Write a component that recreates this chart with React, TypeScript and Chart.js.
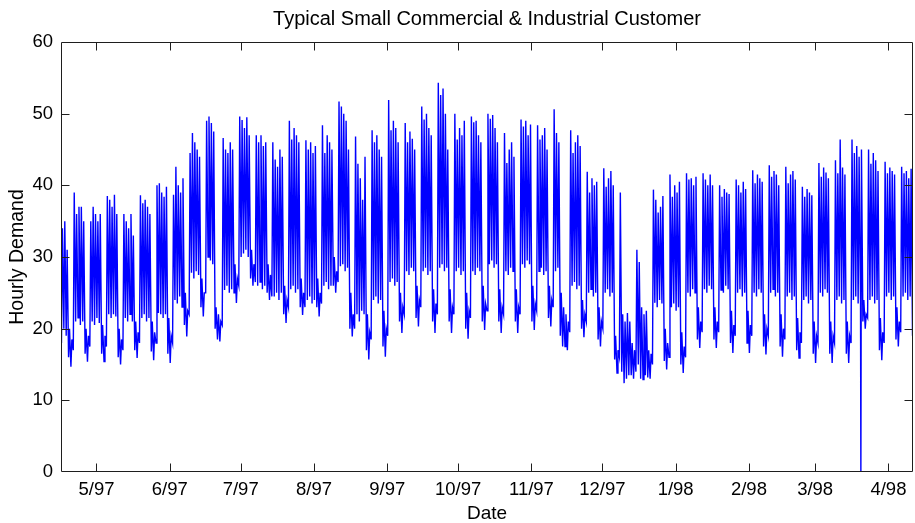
import React, { useEffect, useRef } from 'react';
import { Chart, registerables } from 'chart.js';

Chart.register(...registerables);

// ---- Axis data (x in days since 5/1/97) ----
const monthTickDays = [0, 31, 61, 92, 123, 153, 184, 214, 245, 276, 304, 335];
const monthTickLabels = ['5/97', '6/97', '7/97', '8/97', '9/97', '10/97', '11/97', '12/97', '1/98', '2/98', '3/98', '4/98'];
const xMin = -15; // Wed 4/16/97
const xMax = 345.4;
const yMin = 0;
const yMax = 60;
const yStep = 10;

// first data day (Wed 4/16/97); each day has a night low and a daytime high
const firstDay = -15;
const lowHour = 0.2;
const highHour = 0.6;

// Daily daytime peaks. First 3 values Wed-Fri, then rows of Sat,Sun,Mon,Tue,Wed,Thu,Fri
const dailyHigh = [
  34, 35, 31,
  20, 18.5, 39, 36, 37, 37, 35,
  20, 19, 35, 37, 36, 35, 36,
  20.5, 19, 38.5, 38, 37, 38.7, 36,
  20, 18.5, 36, 35, 34, 36, 33,
  21, 19.5, 38.6, 37.5, 38, 37, 36,
  21, 19.5, 40, 40.3, 39, 38.4, 39.8,
  21.5, 19, 38.7, 42.6, 40, 39, 41,
  25, 22.5, 44.5, 47.3, 46, 45, 44,
  27, 25, 49, 49.6, 48.7, 47.5, 23,
  22, 21, 46.6, 45, 44.5, 46, 45,
  29, 27, 49.6, 49.1, 48, 49.5, 47,
  31, 29, 47, 46, 47, 45.5, 46,
  29, 27.5, 46, 43.6, 42.6, 45, 44,
  26, 24, 49, 46.4, 48, 47, 46,
  27, 25, 46.3, 45, 46, 44.5, 45.5,
  27, 25, 48.4, 44.5, 47, 46, 45,
  30, 28, 51.7, 51, 50, 49, 45,
  25, 22, 46.8, 43, 41, 38, 44,
  22, 19.5, 47.7, 46, 47, 45, 44,
  22.5, 20, 51.9, 47.7, 49, 48, 46,
  25, 23, 48.7, 46, 47.5, 46.5, 45,
  26, 24, 51, 49.2, 50, 48, 47,
  25.5, 23.5, 54.3, 52.6, 53.5, 50, 45,
  25.5, 23, 50, 46.4, 48, 47, 49,
  25, 22.5, 49.6, 48.8, 49, 47, 46,
  26, 23.5, 50, 49.3, 49.8, 48, 46,
  25.5, 23, 47.3, 43.1, 45, 46, 44,
  25.5, 23, 49.2, 48.2, 49, 47, 48.5,
  26, 23.5, 48.4, 46.4, 47, 48, 45,
  26, 24, 50.6, 47.3, 46, 25, 23,
  22, 21, 47.7, 44.5, 46, 47, 45.5,
  24, 22, 41.9, 39, 41, 40, 40.5,
  23, 21, 42.4, 39.8, 41, 42, 40,
  19, 17, 39, 22, 21, 22.2, 21,
  18, 17, 31, 29.3, 23, 22, 22.5,
  17, 16.5, 39.4, 38, 36.2, 37, 38.5,
  20, 18, 41.5, 38.4, 40, 39, 40.5,
  19.5, 17.5, 41.7, 40.8, 41, 40, 41.2,
  23, 21, 41.7, 40.8, 40, 41.5, 40,
  23, 21, 40, 38.4, 39.5, 39, 38.8,
  22.5, 20.5, 40.8, 40, 39, 40.5, 39.5,
  22.5, 20.5, 42.1, 40.3, 41.5, 41, 40.5,
  22, 20, 42.8, 41.2, 42, 41.5, 40,
  22, 20, 42.6, 40.3, 41.5, 42, 40.8,
  21.5, 19.5, 39.8, 38.4, 39.5, 39, 38.6,
  21, 19, 43.1, 41.2, 42.5, 41.8, 41,
  21, 19, 43.5, 41.7, 46.4, 42.5, 41.5,
  21, 19, 46.4, 44.5, 45.5, 44, 45,
  24, 22, 45, 43, 44.5, 43.5, 42,
  21.5, 19.5, 43.3, 41.7, 42.5, 42, 41.5,
  23, 21, 42.6, 41.7, 42, 41, 42.3,
  21,
];

// Daily night lows, same layout
const dailyLow = [
  18, 20, 19,
  16, 14.7, 17, 21, 21.5, 20.5, 21,
  16.5, 15.4, 17.5, 21, 20.5, 21.5, 20.8,
  16.5, 15.4, 17.5, 22, 21.5, 22, 21.7,
  16, 15, 17, 21.5, 21, 22, 21,
  17, 15.9, 18, 21.5, 22, 21, 21.5,
  16.8, 15.6, 18, 22.2, 22, 21.5, 22,
  16.5, 15.2, 18, 24, 23.5, 24.5, 23,
  20.5, 18.9, 22, 27.8, 27, 28, 27.5,
  23, 21.7, 25, 30, 29.5, 29, 20,
  18.5, 18.2, 20.5, 25.4, 26, 25, 25.5,
  25, 23.6, 26, 30, 30.5, 31, 30,
  27, 26, 26.5, 26, 26.5, 25.5, 26,
  25, 24, 24.5, 24.5, 25, 24, 25,
  22, 20.8, 23, 25.5, 26, 25, 25.5,
  23, 21.9, 23, 24, 24.5, 23.5, 24,
  23, 21.7, 23.5, 26, 26.5, 25.5, 26,
  26, 25, 26.5, 28.7, 29, 28, 28.5,
  20, 18.9, 20, 22, 21, 22.5, 22,
  17, 15.7, 18.5, 24, 24.5, 23.5, 24,
  17.5, 16.1, 19, 26.5, 27, 26, 26.5,
  21, 19.4, 22, 28, 27.5, 28.5, 28,
  21.5, 20.3, 23, 28, 28.5, 27.5, 28,
  21, 19.4, 22, 28.5, 29, 28, 28.5,
  21, 19.4, 22, 28, 28.5, 27.5, 28,
  20, 18.6, 21.5, 28, 27.5, 28.5, 28,
  21, 19.8, 22.5, 29, 29.5, 28.5, 29,
  21, 19.4, 22, 28, 27.5, 28.5, 28,
  21, 19.4, 22, 29, 28.5, 29.5, 29,
  21, 19.8, 22.5, 28, 28.5, 27.5, 28,
  21.5, 20.3, 23, 28, 28.5, 19, 17.5,
  17.5, 17, 19.5, 26, 26.5, 25.5, 26,
  20, 18.8, 21, 25, 25.5, 24.5, 25,
  18.5, 17.5, 20, 25, 25.5, 24.5, 25,
  15.7, 13.8, 16, 14, 12.4, 13, 13.5,
  13.5, 13, 14, 15, 13, 12.9, 13.5,
  13.2, 13, 15, 23.6, 23, 24, 23.5,
  15.5, 14.3, 16, 23, 23.5, 22.5, 23,
  15, 13.8, 16, 25, 24.5, 25.5, 25,
  18.5, 17.3, 19.5, 25.5, 25, 26, 25.5,
  18.5, 17.3, 19.5, 25.4, 25, 26, 25.5,
  18, 16.6, 19, 25, 25.5, 24.5, 25,
  18, 16.6, 19, 25, 24.5, 25.5, 25,
  17.5, 16.4, 19, 25, 25.5, 24.5, 25,
  17.5, 16.1, 18.5, 24.5, 25, 24, 24.5,
  17, 15.9, 18, 24, 24.5, 23.5, 24,
  16.5, 15.2, 18, 25, 24.5, 25.5, 25,
  16.5, 15.2, 18, 24, 24.5, 23.5, 24,
  16.5, 15.2, 18, 24, 24.5, 23.5, 24,
  21, 20, 21.5, 24, 24.5, 23.5, 24,
  17, 15.6, 18, 24.5, 25, 24, 24.5,
  18.5, 17.5, 19.5, 24.5, 25, 24, 24.5,
  19,
];

// Meter outage reading (drop to zero)
const outageDays = [323.35];
const outageValues = [0];

const TITLE = 'Typical Small Commercial & Industrial Customer';
const X_TITLE = 'Date';
const Y_TITLE = 'Hourly Demand';
const FONT = "'Liberation Sans', Arial, Helvetica, sans-serif";

const frameTicksPlugin = {
  id: 'frameTicks',
  afterDraw(chart: any) {
    const { ctx, chartArea, scales } = chart;
    const { left, right, top, bottom } = chartArea;
    const L = Math.round(left) + 0.5;
    const R = Math.round(right) - 0.5;
    const T = Math.round(top) + 0.5;
    const B = Math.round(bottom) - 0.5;
    const len = 8;
    ctx.save();
    ctx.strokeStyle = '#1e1e1e';
    ctx.lineWidth = 1;
    ctx.beginPath();
    ctx.rect(L, T, R - L, B - T);
    scales.x.ticks.forEach((t: any) => {
      const px = Math.round(scales.x.getPixelForValue(t.value)) + 0.5;
      ctx.moveTo(px, B);
      ctx.lineTo(px, B - len);
      ctx.moveTo(px, T);
      ctx.lineTo(px, T + len);
    });
    scales.y.ticks.forEach((t: any) => {
      if (t.value <= yMin || t.value >= yMax) return;
      const py = Math.round(scales.y.getPixelForValue(t.value)) + 0.5;
      ctx.moveTo(L, py);
      ctx.lineTo(L + len, py);
      ctx.moveTo(R, py);
      ctx.lineTo(R - len, py);
    });
    ctx.stroke();
    ctx.restore();
  },
};

export default function App() {
  const canvasRef = useRef<HTMLCanvasElement | null>(null);

  useEffect(() => {
    const canvas = canvasRef.current;
    if (!canvas) return;

    const points: { x: number; y: number }[] = [];
    for (let i = 0; i < dailyLow.length; i++) {
      const d = firstDay + i;
      points.push({ x: d + lowHour, y: dailyLow[i] });
      points.push({ x: d + highHour, y: dailyHigh[i] });
    }
    outageDays.forEach((d, i) => points.push({ x: d, y: outageValues[i] }));
    points.sort((a, b) => a.x - b.x);

    const chart = new Chart(canvas, {
      type: 'line',
      data: {
        datasets: [
          {
            data: points,
            borderColor: '#0000ff',
            borderWidth: 1.4,
            pointRadius: 0,
            fill: false,
            tension: 0,
          },
        ],
      },
      options: {
        animation: false,
        responsive: false,
        devicePixelRatio: 1,
        parsing: false,
        normalized: true,
        layout: { padding: { left: 0, right: 2, top: 0, bottom: 0 } },
        plugins: {
          legend: { display: false },
          tooltip: { enabled: false },
          title: {
            display: true,
            text: TITLE,
            fullSize: false,
            color: '#000',
            font: { family: FONT, size: 20, weight: 'normal' },
            padding: { top: 7, bottom: 11 },
          },
        },
        scales: {
          x: {
            type: 'linear',
            min: xMin,
            max: xMax,
            afterBuildTicks: (axis: any) => {
              axis.ticks = monthTickDays.map((value) => ({ value }));
            },
            afterFit: (axis: any) => {
              axis.height = 51;
            },
            grid: { display: false, drawTicks: false },
            border: { display: false },
            ticks: {
              autoSkip: false,
              maxRotation: 0,
              minRotation: 0,
              padding: 7,
              color: '#000',
              font: { family: FONT, size: 18.5 },
              callback: (_v: any, i: number) => monthTickLabels[i],
            },
            title: {
              display: true,
              text: X_TITLE,
              color: '#000',
              font: { family: FONT, size: 19 },
              padding: { top: 0, bottom: -2 },
            },
          },
          y: {
            type: 'linear',
            min: yMin,
            max: yMax,
            afterFit: (axis: any) => {
              axis.width = 61;
            },
            grid: { display: false, drawTicks: false },
            border: { display: false },
            ticks: {
              stepSize: yStep,
              padding: 8,
              color: '#000',
              font: { family: FONT, size: 18.5 },
            },
            title: {
              display: true,
              text: Y_TITLE,
              color: '#000',
              font: { family: FONT, size: 19.5 },
              padding: { top: 6, bottom: 0 },
            },
          },
        },
      } as any,
      plugins: [frameTicksPlugin],
    });

    return () => {
      chart.destroy();
    };
  }, []);

  return (
    <div style={{ position: 'absolute', left: 0, top: 0, width: 915, height: 523, background: '#fff' }}>
      <canvas ref={canvasRef} width={915} height={523} style={{ width: 915, height: 523, display: 'block' }} />
    </div>
  );
}
